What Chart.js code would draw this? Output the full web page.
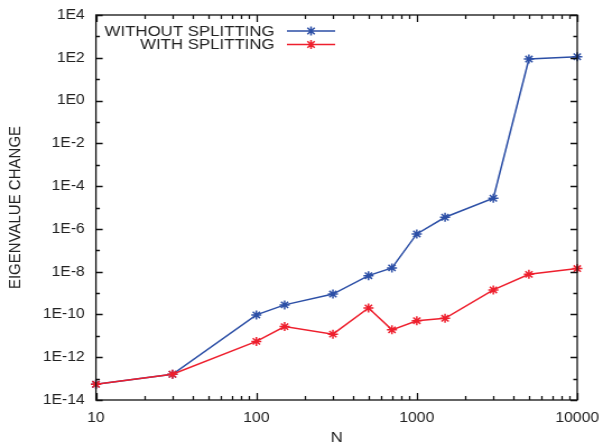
<!DOCTYPE html>
<html>
<head>
<meta charset="utf-8">
<script src="https://cdn.jsdelivr.net/npm/chart.js@4/dist/chart.umd.min.js"></script>
<style>
  html, body { margin: 0; padding: 0; background: #fff; overflow: hidden; }
  #wrap { width: 603px; height: 448px; }
  /* the original figure is a bit wider than tall, stretch it */
  #chart { transform: scaleX(1.1208); transform-origin: 0 0; }
</style>
</head>
<body>
<div id="wrap"><canvas id="chart" width="538" height="448" style="width:538px;height:448px"></canvas></div>
<script>
// Data
const nValues = [10, 30, 100, 150, 300, 500, 700, 1000, 1500, 3000, 5000, 10000];
const withoutSplitting = [5.4e-14, 1.6e-13, 9.5e-11, 2.8e-10, 9e-10, 6.5e-9, 1.5e-8, 5.8e-7, 3.5e-6, 2.7e-5, 87, 112];
const withSplitting = [5.4e-14, 1.6e-13, 5.5e-12, 2.7e-11, 1.2e-11, 2e-10, 1.9e-11, 5.1e-11, 6.6e-11, 1.4e-9, 7.5e-9, 1.4e-8];
const seriesLabels = ['WITHOUT SPLITTING', 'WITH SPLITTING'];

// Ticks
const xTicks = [10, 100, 1000, 10000];
const yTicks = [1e-14, 1e-12, 1e-10, 1e-8, 1e-6, 1e-4, 1e-2, 1e0, 1e2, 1e4];
const yTickLabels = ['1E-14', '1E-12', '1E-10', '1E-8', '1E-6', '1E-4', '1E-2', '1E0', '1E2', '1E4'];

const FONT = '"Liberation Sans", Arial, Helvetica, sans-serif';
const TEXT = '#222';
const BLUE = '#2c4fa6';
const RED = '#ee1f2d';

// box + inward ticks (gnuplot style)
const frameTicks = {
    id: 'frameTicks',
    afterDatasetsDraw(chart) {
        const ctx = chart.ctx;
        const a = chart.chartArea;
        const xs = chart.scales.x, ys = chart.scales.y;
        ctx.save();
        ctx.strokeStyle = '#111';
        ctx.lineWidth = 1.3;
        ctx.strokeRect(a.left, a.top, a.right - a.left, a.bottom - a.top);

        ctx.beginPath();
        // y ticks, every decade
        for (let e = -14; e <= 4; e++) {
            const py = Math.round(ys.getPixelForValue(Math.pow(10, e))) + 0.5;
            const len = (e % 2 === 0) ? 6 : 3.5;
            ctx.moveTo(a.left, py); ctx.lineTo(a.left + len, py);
            ctx.moveTo(a.right, py); ctx.lineTo(a.right - len, py);
        }
        // x ticks
        for (let d = 1; d <= 4; d++) {
            for (let k = 1; k <= 9; k++) {
                const v = k * Math.pow(10, d);
                if (v > 10000) break;
                const px = Math.round(xs.getPixelForValue(v)) + 0.5;
                const len = (k === 1) ? 7 : 4;
                ctx.moveTo(px, a.bottom); ctx.lineTo(px, a.bottom - len);
                ctx.moveTo(px, a.top); ctx.lineTo(px, a.top + len);
            }
        }
        ctx.stroke();
        ctx.restore();
    }
};

// legend at top-left, text right aligned, sample to the right
const keyBox = {
    id: 'keyBox',
    afterDatasetsDraw(chart) {
        const ctx = chart.ctx;
        const rows = [[seriesLabels[0], BLUE, 31], [seriesLabels[1], RED, 44.5]];
        ctx.save();
        ctx.font = '15px ' + FONT;
        ctx.textAlign = 'right';
        ctx.textBaseline = 'middle';
        rows.forEach(r => {
            ctx.fillStyle = TEXT;
            ctx.fillText(r[0], 245, r[2] + 0.5);
            ctx.strokeStyle = r[1];
            ctx.lineWidth = 1.5;
            ctx.beginPath();
            ctx.moveTo(256, r[2]); ctx.lineTo(299, r[2]);
            // star marker
            const cx = 277.5, cy = r[2], s = 4.5;
            ctx.moveTo(cx - s, cy); ctx.lineTo(cx + s, cy);
            ctx.moveTo(cx, cy - s); ctx.lineTo(cx, cy + s);
            const d = s * 0.72;
            ctx.moveTo(cx - d, cy - d); ctx.lineTo(cx + d, cy + d);
            ctx.moveTo(cx - d, cy + d); ctx.lineTo(cx + d, cy - d);
            ctx.stroke();
        });
        ctx.restore();
    }
};

const toPoints = (vals) => nValues.map((n, i) => ({x: n, y: vals[i]}));

const ctx = document.getElementById('chart').getContext('2d');
const chart = new Chart(ctx, {
    type: 'line',
    data: {
        datasets: [{
            label: seriesLabels[0],
            data: toPoints(withoutSplitting),
            borderColor: BLUE,
            backgroundColor: BLUE,
            borderWidth: 1.5,
            pointStyle: 'star',
            pointRadius: 4.5,
            pointBorderWidth: 1.5,
            pointBorderColor: BLUE,
            clip: false,
            order: 1
        }, {
            label: seriesLabels[1],
            data: toPoints(withSplitting),
            borderColor: RED,
            backgroundColor: RED,
            borderWidth: 1.5,
            pointStyle: 'star',
            pointRadius: 4.5,
            pointBorderWidth: 1.5,
            pointBorderColor: RED,
            clip: false,
            order: 0
        }]
    },
    options: {
        responsive: false,
        animation: false,
        devicePixelRatio: 1,
        layout: { padding: { top: 15, right: 23, bottom: 0, left: 0 } },
        plugins: {
            legend: { display: false },
            tooltip: { enabled: false }
        },
        scales: {
            x: {
                type: 'logarithmic',
                min: 10,
                max: 10000,
                grid: { display: false, drawTicks: false },
                border: { display: false },
                afterBuildTicks: (s) => { s.ticks = xTicks.map(v => ({value: v})); },
                afterFit: (s) => { s.height = 48; s.paddingLeft = 0; s.paddingRight = 0; },
                ticks: {
                    color: TEXT,
                    font: { family: FONT, size: 14 },
                    padding: 10,
                    maxRotation: 0,
                    autoSkip: false,
                    callback: (v) => String(v)
                },
                title: {
                    display: true,
                    text: 'N',
                    color: TEXT,
                    font: { family: FONT, size: 15 },
                    padding: { top: 0, bottom: 1 }
                }
            },
            y: {
                type: 'logarithmic',
                min: 1e-14,
                max: 1e4,
                grid: { display: false, drawTicks: false },
                border: { display: false },
                afterBuildTicks: (s) => { s.ticks = yTicks.map(v => ({value: v})); },
                afterFit: (s) => { s.width = 85.6; s.paddingTop = 0; s.paddingBottom = 0; },
                ticks: {
                    color: TEXT,
                    font: { family: FONT, size: 14 },
                    padding: 10,
                    autoSkip: false,
                    callback: (v) => {
                        const i = yTicks.findIndex(t => Math.abs(Math.log10(t) - Math.log10(v)) < 1e-6);
                        return i >= 0 ? yTickLabels[i] : '';
                    }
                },
                title: {
                    display: true,
                    text: 'EIGENVALUE CHANGE',
                    color: TEXT,
                    font: { family: FONT, size: 15 },
                    padding: { top: 5, bottom: 0 }
                }
            }
        }
    },
    plugins: [frameTicks, keyBox]
});
</script>
</body>
</html>
